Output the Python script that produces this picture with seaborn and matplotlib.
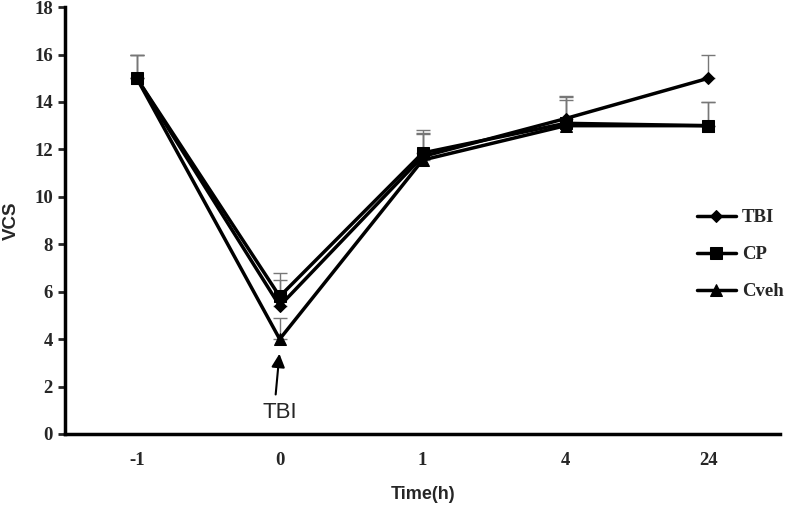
import numpy as np
import pandas as pd
import matplotlib
matplotlib.use("Agg")
import matplotlib.pyplot as plt
import seaborn as sns

# Dữ liệu
time_labels = ["-1", "0", "1", "4", "24"]
tbi_vals = [15.0, 5.4, 11.7, 13.3, 15.0]
cp_vals = [15.0, 5.8, 11.85, 13.1, 13.0]
cveh_vals = [15.0, 4.0, 11.55, 13.0, 13.0]
tbi_err = [1.0, 1.4, 1.1, 0.95, 1.0]
cp_err = [1.0, 0.7, 0.85, 1.1, 1.0]
cveh_err = [1.0, 0.9, 1.1, 1.1, 1.0]

groups = ["TBI", "CP", "Cveh"]
markers = {"TBI": "D", "CP": "s", "Cveh": "^"}
msize = {"TBI": 6.5, "CP": 9, "Cveh": 9}

sns.set_style("white")
fig = plt.figure(figsize=(7.87, 5.07), dpi=100)
ax = fig.add_axes([0.083, 0.144, 0.908, 0.842])

x = np.arange(len(time_labels))
series = {"TBI": (tbi_vals, tbi_err), "CP": (cp_vals, cp_err), "Cveh": (cveh_vals, cveh_err)}

# Thanh sai số (chỉ hướng lên)
for g in ["Cveh", "TBI", "CP"]:
    vals, err = series[g]
    ax.errorbar(x, vals, yerr=[np.zeros(len(err)), err], fmt="none",
                ecolor="#777777", elinewidth=1, capsize=5, capthick=1, zorder=1)

df = pd.concat([pd.DataFrame({"x": x, "VCS": series[g][0], "group": g}) for g in groups])
for i, g in enumerate(["Cveh", "TBI", "CP"]):
    sub = df[df["group"] == g]
    sns.lineplot(data=sub, x="x", y="VCS", ax=ax, color="black", linewidth=2.5,
                 marker=markers[g], markersize=msize[g], markeredgecolor="black",
                 label=g, zorder=3 + i)

ax.set_xlim(-0.5, len(time_labels) - 0.5)
ax.set_ylim(0, 18)
ax.set_yticks(range(0, 19, 2))
ax.set_xticks(x)
ax.set_xticklabels(time_labels)

for lab in ax.get_xticklabels() + ax.get_yticklabels():
    lab.set_family("Liberation Serif")
    lab.set_fontweight("bold")
    lab.set_fontsize(13.5)

ax.tick_params(axis="y", direction="out", length=5, width=2, left=True, pad=4)
ax.tick_params(axis="x", length=0, pad=13)

for s in ["top", "right"]:
    ax.spines[s].set_visible(False)
for s in ["left", "bottom"]:
    ax.spines[s].set_linewidth(2.5)
    ax.spines[s].set_color("black")

ax.set_xlabel("Time(h)", fontsize=13, fontweight="bold", family="Liberation Sans", labelpad=12)
ax.set_ylabel("VCS", fontsize=13.5, fontweight="bold", family="Liberation Sans", labelpad=10)

# Mũi tên chỉ thời điểm TBI
ax.annotate("", xy=(1, 3.5), xytext=(0.97, 1.55),
            arrowprops=dict(arrowstyle="-|>", color="black", lw=1.5, mutation_scale=20))
ax.text(1, 0.9, "TBI", ha="center", va="center", fontsize=16, family="Liberation Sans")

# Chú giải
handles, labels = ax.get_legend_handles_labels()
order = [labels.index(g) for g in groups]
leg = ax.legend([handles[i] for i in order], [labels[i] for i in order],
                loc="center left", bbox_to_anchor=(0.86, 0.42), frameon=False,
                handlelength=2.1, labelspacing=1.05, handletextpad=0.3,
                prop={"family": "Liberation Serif", "weight": "bold", "size": 13.5})

plt.savefig("out.png", dpi=100)
plt.close()
